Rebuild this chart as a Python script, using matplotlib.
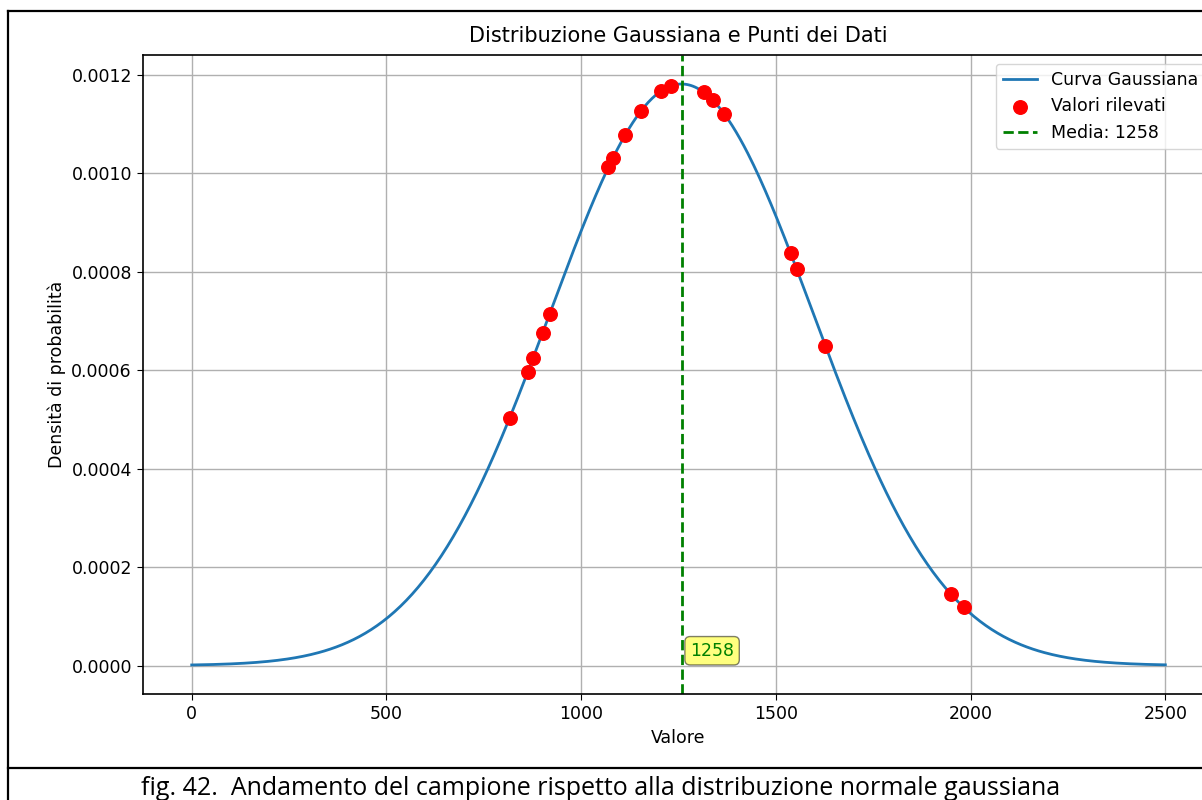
import numpy as np
import matplotlib
matplotlib.use('Agg')
import matplotlib.pyplot as plt
from matplotlib.lines import Line2D

# valori rilevati
valori = [816, 863, 876, 901, 919,
          1070, 1081, 1113, 1153, 1204, 1231,
          1315, 1338, 1367,
          1538, 1553, 1627,
          1949, 1982]
x_min, x_max = 0, 2500
caption = "fig. 42.  Andamento del campione rispetto alla distribuzione normale gaussiana"

valori = np.array(valori, dtype=float)
media = valori.mean()
dev_std = valori.std()


def gauss(x):
    return np.exp(-0.5 * ((x - media) / dev_std) ** 2) / (dev_std * np.sqrt(2 * np.pi))


xs = np.linspace(x_min, x_max, 500)

fs = 12.5
fig = plt.figure(figsize=(12.02, 8.0), dpi=100)
ax = fig.add_axes([0.119, 0.1325, 0.891, 0.7988])

ax.plot(xs, gauss(xs), color='#1f77b4', lw=2, label='Curva Gaussiana')
ax.scatter(valori, gauss(valori), color='red', s=95, zorder=5, label='Valori rilevati')
ax.axvline(media, color='green', linestyle='--', lw=2, label=f'Media: {media:.0f}')
ax.text(media + 22, 0.00003, f'{media:.0f}', color='green', fontsize=fs, va='center', ha='left',
        bbox=dict(boxstyle='round', facecolor='yellow', alpha=0.5))

ax.set_title('Distribuzione Gaussiana e Punti dei Dati', fontsize=15, pad=9)
ax.set_xlabel('Valore', fontsize=fs)
ax.set_ylabel('Densità di probabilità', fontsize=fs)
ax.tick_params(labelsize=fs, length=4.5)
ax.grid(True, color='#b0b0b0', lw=1)
for s in ax.spines.values():
    s.set_linewidth(1.2)
ax.legend(loc='upper right', fontsize=fs)

# bordi della tabella del documento
for seg in [([8 / 1202, 1], [1 - 11 / 800] * 2),
            ([8 / 1202] * 2, [0, 1 - 11 / 800]),
            ([8 / 1202, 1], [1 - 768 / 800] * 2)]:
    fig.add_artist(Line2D(seg[0], seg[1], color='black', lw=1.6, transform=fig.transFigure))

fig.text(0.5, 5 / 800, caption, ha='center', va='baseline', fontsize=18,
         family='Open Sans', color='black')

plt.savefig('out.png', dpi=100)
plt.close()
